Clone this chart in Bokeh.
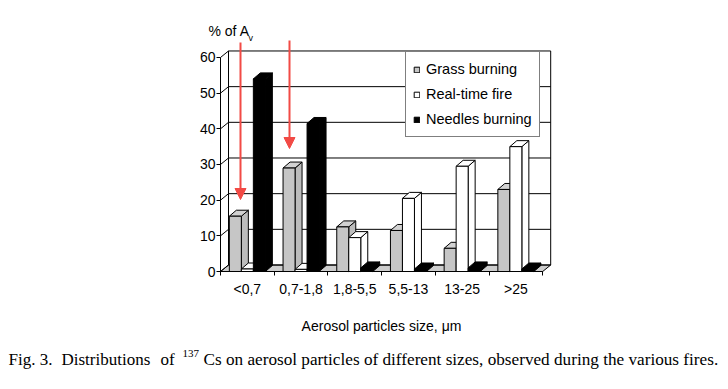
from bokeh.plotting import figure
from bokeh.models import Range1d, FixedTicker, Legend, LegendItem, Label, Arrow, NormalHead
from bokeh.embed import file_html
from bokeh.resources import INLINE

# ---------------- data ----------------
categories = ["<0,7", "0,7-1,8", "1,8-5,5", "5,5-13", "13-25", ">25"]
grass = [15.5, 29, 12.5, 11.5, 6.5, 23]
realtime = [0.7, 0.6, 9.5, 20.5, 29.5, 35]
needles = [54, 41.5, 1, 0.7, 1, 0.7]
series_names = ["Grass burning", "Real-time fire", "Needles burning"]
y_ticks = [0, 10, 20, 30, 40, 50, 60]

# ---------------- layout (page pixels) ----------------
W, H = 724, 380
PX_PER_X = 53.7
PX_PER_Y = 3.567
ORIG_X, ORIG_Y = 220, 271   # page position of data (0, 0)
FONT = "Liberation Sans"
SERIF = "Liberation Serif"
RED = "#f24a45"


def px2x(px):
    return (px - ORIG_X) / PX_PER_X


def px2y(py):
    return (ORIG_Y - py) / PX_PER_Y


p = figure(width=W, height=H, output_backend="svg", toolbar_location=None,
           x_range=Range1d(px2x(0), px2x(W)), y_range=Range1d(px2y(H), px2y(0)),
           min_border_left=0, min_border_right=0, min_border_top=0, min_border_bottom=0)
p.outline_line_color = None
p.xgrid.visible = False
p.ygrid.visible = False
p.background_fill_color = "white"
p.border_fill_color = "white"

n = len(categories)
ymax = y_ticks[-1]

# walls / floor (3D depth offsets)
wdx = 8 / PX_PER_X
wdy = 6.5 / PX_PER_Y
p.patch([0, n, n + wdx, wdx], [0, 0, wdy, wdy], fill_color="#cdcdcd",
        line_color="black", line_width=1)
p.segment(x0=[wdx] * len(y_ticks), y0=[t + wdy for t in y_ticks],
          x1=[n + wdx] * len(y_ticks), y1=[t + wdy for t in y_ticks],
          line_color="black", line_width=1)
p.segment(x0=[0] * len(y_ticks), y0=y_ticks,
          x1=[wdx] * len(y_ticks), y1=[t + wdy for t in y_ticks],
          line_color="black", line_width=1)
p.segment(x0=[wdx, n + wdx], y0=[wdy, wdy], x1=[wdx, n + wdx], y1=[ymax + wdy, ymax + wdy],
          line_color="black", line_width=1)

# 3D bars
bw = 12 / PX_PER_X
start = (1 - 3 * bw) / 2
bdx = 7 / PX_PER_X
bdy = 6 / PX_PER_Y
styles = [
    dict(front="#c6c6c6", side="#bcbcbc", top="#d2d2d2"),
    dict(front="white", side="white", top="white"),
    dict(front="black", side="black", top="black"),
]
front_renderers = []
for s, vals in enumerate([grass, realtime, needles]):
    lefts = [i + start + s * bw for i in range(n)]
    rights = [l + bw for l in lefts]
    side_xs = [[r, r + bdx, r + bdx, r] for r in rights]
    side_ys = [[0, bdy, v + bdy, v] for v in vals]
    top_xs = [[l, r, r + bdx, l + bdx] for l, r in zip(lefts, rights)]
    top_ys = [[v, v, v + bdy, v + bdy] for v in vals]
    st = styles[s]
    p.patches(side_xs, side_ys, fill_color=st["side"], line_color="black", line_width=1)
    p.patches(top_xs, top_ys, fill_color=st["top"], line_color="black", line_width=1)
    r = p.quad(left=lefts, right=rights, bottom=[0] * n, top=vals,
               fill_color=st["front"], line_color="black", line_width=1)
    front_renderers.append(r)

# axes (placed at data origin)
ya = p.yaxis[0]
ya.fixed_location = 0
ya.ticker = FixedTicker(ticks=y_ticks)
ya.bounds = (0, ymax)
ya.axis_line_color = "black"
ya.major_tick_line_color = "black"
ya.major_tick_out = 4
ya.major_tick_in = 0
ya.minor_tick_line_color = None
ya.major_label_standoff = 1
ya.major_label_text_font = FONT
ya.major_label_text_font_size = "14px"
ya.major_label_text_color = "black"

xa = p.xaxis[0]
xa.fixed_location = 0
centers = [i + 0.5 for i in range(n)]
xa.ticker = FixedTicker(ticks=centers, minor_ticks=list(range(n + 1)))
xa.major_label_overrides = {c: lab for c, lab in zip(centers, categories)}
xa.bounds = (0, n)
xa.axis_line_color = "black"
xa.major_tick_line_color = None
xa.major_tick_out = 4
xa.major_tick_in = 0
xa.minor_tick_line_color = "black"
xa.minor_tick_out = 4
xa.minor_tick_in = 0
xa.major_label_standoff = 5
xa.major_label_text_font = FONT
xa.major_label_text_font_size = "14px"
xa.major_label_text_color = "black"
xa.axis_label = "Aerosol particles size, \u03bcm"
xa.axis_label_text_font = FONT
xa.axis_label_text_font_size = "14px"
xa.axis_label_text_font_style = "normal"
xa.axis_label_text_color = "black"
xa.axis_label_standoff = 18

# legend
legend = Legend(items=[LegendItem(label=nm, renderers=[r]) for nm, r in zip(series_names, front_renderers)],
                location=(405, H - 137), border_line_color="black", border_line_width=1,
                background_fill_color="white", background_fill_alpha=1.0,
                label_text_font=FONT, label_text_font_size="14.5px", label_text_color="black",
                glyph_width=7, glyph_height=7, label_standoff=6, label_height=20,
                spacing=5, padding=7, margin=0)
p.add_layout(legend)

# y-axis caption "% of A_v"
p.add_layout(Label(x=px2x(208), y=px2y(30), text="% of A", text_font=FONT,
                   text_font_size="14px", text_baseline="middle", text_align="left",
                   text_color="black"))
p.add_layout(Label(x=px2x(248), y=px2y(37), text="v", text_font=FONT,
                   text_font_size="9px", text_baseline="middle", text_align="left",
                   text_color="black"))

# red arrows
for (ax, ay0, ay1) in [(240, 42, 199), (289, 40, 148)]:
    p.add_layout(Arrow(end=NormalHead(size=11, fill_color=RED, line_color=RED),
                       x_start=px2x(ax), y_start=px2y(ay0), x_end=px2x(ax), y_end=px2y(ay1),
                       line_color=RED, line_width=2))

# figure caption (justified line: words placed separately)
cap_y = px2y(359)
cap_parts = [("Fig. 3.", 8, 17), ("Distributions", 61, 17), ("of", 160, 17),
             ("137", 182, 11), ("Cs on aerosol particles of different sizes, observed during the various fires.", 203, 17.2)]
for txt, xpx, fs in cap_parts:
    yy = px2y(353) if txt == "137" else cap_y
    p.add_layout(Label(x=px2x(xpx), y=yy, text=txt, text_font=SERIF,
                       text_font_size=f"{fs}px", text_baseline="middle", text_align="left",
                       text_color="black"))

open("out.html", "w").write(file_html(p, INLINE))
